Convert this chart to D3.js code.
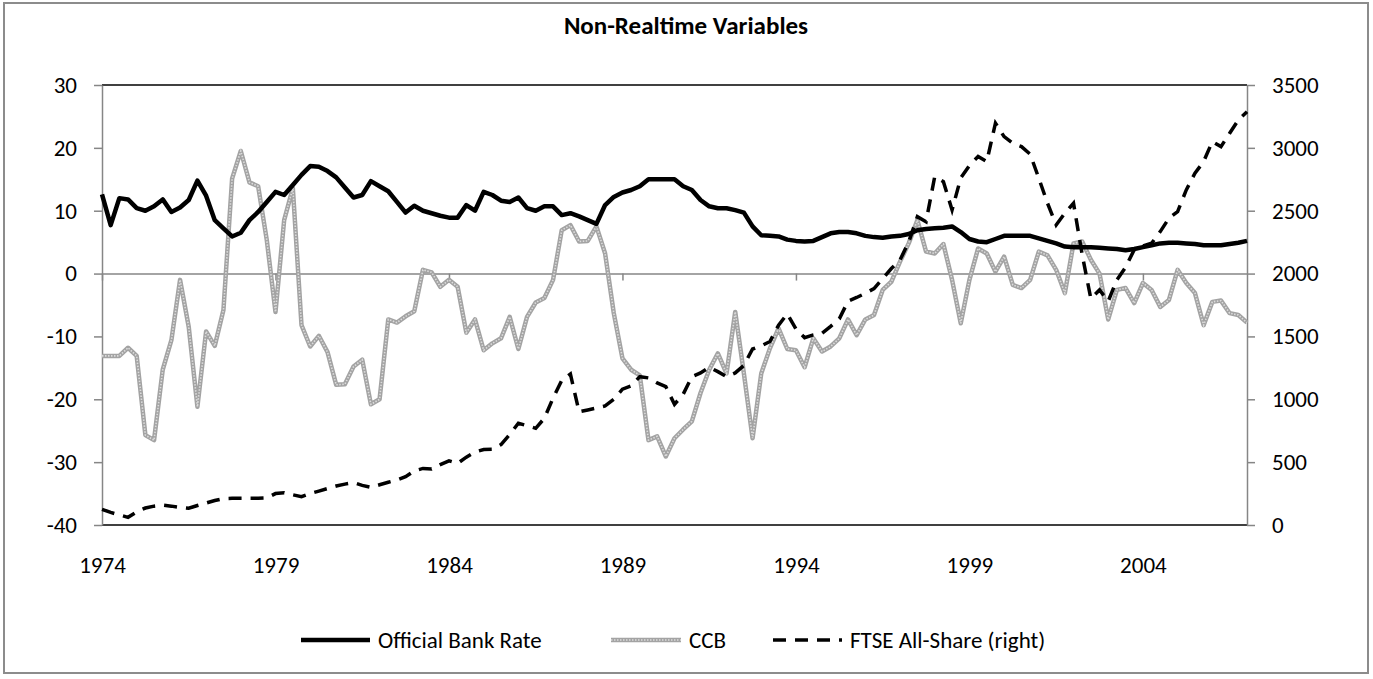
<!DOCTYPE html>
<html>
<head>
<meta charset="utf-8">
<script src="https://cdn.jsdelivr.net/npm/d3@7"></script>
<style>
  body { margin: 0; background: #fff; }
  text { font-family: Carlito, Calibri, Lato, sans-serif; }
</style>
</head>
<body>
<svg id="chart" width="1373" height="679"></svg>
<script>
// quarterly data, 1974 Q1 .. 2007 Q1
var years = d3.range(1974, 2008)
var quarters = []
years.forEach(function (y) {
    for (var q = 1; q <= 4; q++) quarters.push(y + "Q" + q)
})
quarters = quarters.slice(0, 133)

var tickLabels = ["1974", "1979", "1984", "1989", "1994", "1999", "2004"]

var bankRate = [
    12.6, 7.7, 12.0, 11.8, 10.4, 10.0, 10.7, 11.8, 9.8, 10.5,
    11.7, 14.8, 12.4, 8.5, 7.2, 5.9, 6.5, 8.5, 9.8, 11.4,
    13.0, 12.5, 14.1, 15.7, 17.1, 17.0, 16.3, 15.3, 13.7, 12.1,
    12.5, 14.7, 13.9, 13.1, 11.4, 9.7, 10.8, 10.0, 9.6, 9.2,
    8.9, 8.9, 10.9, 10.0, 13.0, 12.5, 11.6, 11.4, 12.1, 10.4,
    10.0, 10.7, 10.7, 9.3, 9.6, 9.1, 8.5, 7.9, 10.9, 12.2,
    12.9, 13.3, 13.9, 15.0, 15.0, 15.0, 15.0, 13.9, 13.3, 11.7,
    10.7, 10.4, 10.4, 10.1, 9.7, 7.5, 6.1, 6.0, 5.9, 5.4,
    5.2, 5.1, 5.2, 5.8, 6.4, 6.6, 6.6, 6.4, 6.0, 5.8,
    5.7, 5.9, 6.0, 6.3, 6.9, 7.1, 7.2, 7.3, 7.5, 6.6,
    5.5, 5.1, 5.0, 5.5, 6.0, 6.0, 6.0, 6.0, 5.6, 5.2,
    4.8, 4.3, 4.2, 4.2, 4.2, 4.1, 4.0, 3.9, 3.7, 3.9,
    4.2, 4.5, 4.8, 4.9, 4.9, 4.8, 4.7, 4.5, 4.5, 4.5,
    4.7, 4.9, 5.2
]

var ccb = [
    -13.1, -13.1, -13.1, -11.8, -13.1, -25.7, -26.5, -15.3, -10.6, -1.0,
    -8.5, -21.2, -9.2, -11.5, -5.8, 15.1, 19.5, 14.5, 13.9, 5.3,
    -6.1, 8.5, 13.6, -8.2, -11.6, -9.9, -12.5, -17.7, -17.6, -14.8,
    -13.7, -20.8, -20.0, -7.3, -7.8, -6.8, -6.0, 0.6, 0.2, -2.1,
    -1.0, -2.1, -9.4, -7.3, -12.2, -11.1, -10.3, -6.9, -12.0, -6.9,
    -4.6, -3.9, -1.0, 6.9, 7.7, 5.1, 5.2, 7.5, 3.2, -6.3,
    -13.5, -15.3, -16.2, -26.5, -25.9, -29.1, -26.2, -24.8, -23.5, -19.0,
    -15.3, -12.7, -15.9, -6.1, -15.9, -26.2, -15.9, -11.9, -8.7, -12.0,
    -12.2, -14.9, -10.3, -12.4, -11.6, -10.3, -7.3, -9.8, -7.3, -6.6,
    -2.6, -1.3, 1.9, 4.8, 8.5, 3.5, 3.2, 4.7, -1.0, -7.9,
    -1.0, 4.0, 3.2, 0.3, 2.7, -1.8, -2.3, -1.0, 3.5, 2.9,
    0.6, -3.1, 4.8, 5.1, 2.2, 0.0, -7.3, -2.6, -2.3, -4.7,
    -1.5, -2.6, -5.3, -4.2, 0.6, -1.5, -3.1, -8.2, -4.5, -4.3,
    -6.3, -6.6, -7.8
]

var ftse = [
    125, 100, 80, 61, 105, 135, 150, 158, 150, 140,
    133, 155, 175, 195, 210, 212, 212, 212, 212, 215,
    250, 257, 240, 225, 250, 270, 290, 310, 325, 337,
    315, 300, 320, 340, 358, 384, 430, 450, 445, 480,
    510, 490, 540, 580, 600, 602, 640, 720, 809, 790,
    769, 849, 1010, 1150, 1201, 900, 915, 930, 947, 1000,
    1080, 1106, 1180, 1170, 1130, 1100, 960, 1040, 1180, 1210,
    1255, 1220, 1180, 1210, 1270, 1400, 1425, 1460, 1590, 1680,
    1560, 1490, 1512, 1525, 1580, 1640, 1780, 1810, 1843, 1880,
    1960, 2040, 2108, 2250, 2453, 2413, 2771, 2731, 2506, 2760,
    2860, 2931, 2891, 3196, 3089, 3036, 3010, 2950, 2758, 2560,
    2387, 2480, 2559, 2150, 1800, 1870, 1780, 1950, 2050, 2190,
    2220, 2241, 2334, 2440, 2493, 2665, 2798, 2891, 3050, 3010,
    3116, 3222, 3288
]

var svg = d3.select("#chart"),
    margin = { top: 85, right: 126, bottom: 154, left: 102 },
    width = +svg.attr("width") - margin.left - margin.right,
    height = +svg.attr("height") - margin.top - margin.bottom,
    axisGrey = "#868686",
    fontSize = 23

// chart area border
svg.append("rect")
    .attr("x", 4).attr("y", 3)
    .attr("width", 1364).attr("height", 670)
    .attr("fill", "none")
    .attr("stroke", "#8c8c8c")
    .attr("stroke-width", 2)

svg.append("text")
    .attr("x", 686).attr("y", 34)
    .attr("text-anchor", "middle")
    .attr("font-size", 25)
    .attr("font-weight", "bold")
    .text("Non-Realtime Variables")

var g = svg.append("g").attr("transform", "translate(" + margin.left + "," + margin.top + ")")

var x = d3.scalePoint()
    .domain(quarters)
    .range([0, width])

var yL = d3.scaleLinear().domain([-40, 30]).range([height, 0])
var yR = d3.scaleLinear().domain([0, 3500]).range([height, 0])

// plot border top / bottom
g.append("line").attr("x1", 0).attr("x2", width).attr("y1", 0).attr("y2", 0)
    .attr("stroke", "#000").attr("stroke-width", 1.5)
g.append("line").attr("x1", 0).attr("x2", width).attr("y1", height).attr("y2", height)
    .attr("stroke", "#000").attr("stroke-width", 1.5)

var tickCats = tickLabels.map(function (t) { return t + "Q1" })

// category axis sits at zero, labels low
var xAxis = g.append("g")
    .attr("transform", "translate(0," + yL(0) + ")")
    .call(d3.axisBottom(x).tickValues(tickCats).tickSize(7).tickSizeOuter(0).tickFormat(""))

var xLabels = g.append("g")
    .attr("transform", "translate(0," + height + ")")
    .call(d3.axisBottom(x).tickValues(tickCats).tickSize(0).tickPadding(32)
        .tickFormat(function (d) { return d.slice(0, 4) }))
xLabels.select(".domain").remove()

var plain = function (d) { return String(d) }

var leftAxis = g.append("g")
    .call(d3.axisLeft(yL).tickValues(d3.range(-40, 31, 10)).tickSize(8).tickSizeOuter(0)
        .tickPadding(17).tickFormat(plain))

var rightAxis = g.append("g")
    .attr("transform", "translate(" + width + ",0)")
    .call(d3.axisRight(yR).tickValues(d3.range(0, 3501, 500)).tickSize(8).tickSizeOuter(0)
        .tickPadding(17).tickFormat(plain))

svg.selectAll(".domain, .tick line")
    .attr("stroke", axisGrey)
    .attr("stroke-width", 1.5)
svg.selectAll(".tick text")
    .attr("font-size", fontSize)
    .attr("font-family", "Carlito, Calibri, Lato, sans-serif")
    .attr("fill", "#000")

var lineL = d3.line()
    .x(function (d, i) { return x(quarters[i]) })
    .y(function (d) { return yL(d) })

var lineR = d3.line()
    .x(function (d, i) { return x(quarters[i]) })
    .y(function (d) { return yR(d) })

// CCB: textured grey
g.append("path").datum(ccb)
    .attr("fill", "none").attr("stroke", "#a3a3a3")
    .attr("stroke-width", 4.5).attr("stroke-linejoin", "round")
    .attr("d", lineL)
g.append("path").datum(ccb)
    .attr("fill", "none").attr("stroke", "#dcdcdc")
    .attr("stroke-width", 1.6).attr("stroke-dasharray", "1.5,1.5")
    .attr("d", lineL)

g.append("path").datum(bankRate)
    .attr("fill", "none").attr("stroke", "#000")
    .attr("stroke-width", 4.5).attr("stroke-linejoin", "round")
    .attr("d", lineL)

g.append("path").datum(ftse)
    .attr("fill", "none").attr("stroke", "#000")
    .attr("stroke-width", 3.5).attr("stroke-dasharray", "13,9")
    .attr("d", lineR)

// legend
var legendY = 640
var legend = svg.append("g")

function legendItem(x0, x1, label, style) {
    var it = legend.append("g")
    if (style === "ccb") {
        it.append("line").attr("x1", x0).attr("x2", x1).attr("y1", legendY).attr("y2", legendY)
            .attr("stroke", "#a3a3a3").attr("stroke-width", 4.5)
        it.append("line").attr("x1", x0).attr("x2", x1).attr("y1", legendY).attr("y2", legendY)
            .attr("stroke", "#dcdcdc").attr("stroke-width", 1.6).attr("stroke-dasharray", "1.5,1.5")
    } else if (style === "dash") {
        it.append("line").attr("x1", x0).attr("x2", x1).attr("y1", legendY).attr("y2", legendY)
            .attr("stroke", "#000").attr("stroke-width", 3.5).attr("stroke-dasharray", "13,9")
    } else {
        it.append("line").attr("x1", x0).attr("x2", x1).attr("y1", legendY).attr("y2", legendY)
            .attr("stroke", "#000").attr("stroke-width", 4.5)
    }
    it.append("text")
        .attr("x", x1 + 8).attr("y", legendY)
        .attr("dy", "0.35em")
        .attr("font-size", fontSize)
        .text(label)
}

legendItem(301, 370, "Official Bank Rate", "solid")
legendItem(611, 681, "CCB", "ccb")
legendItem(773, 842, "FTSE All-Share (right)", "dash")
</script>
</body>
</html>
